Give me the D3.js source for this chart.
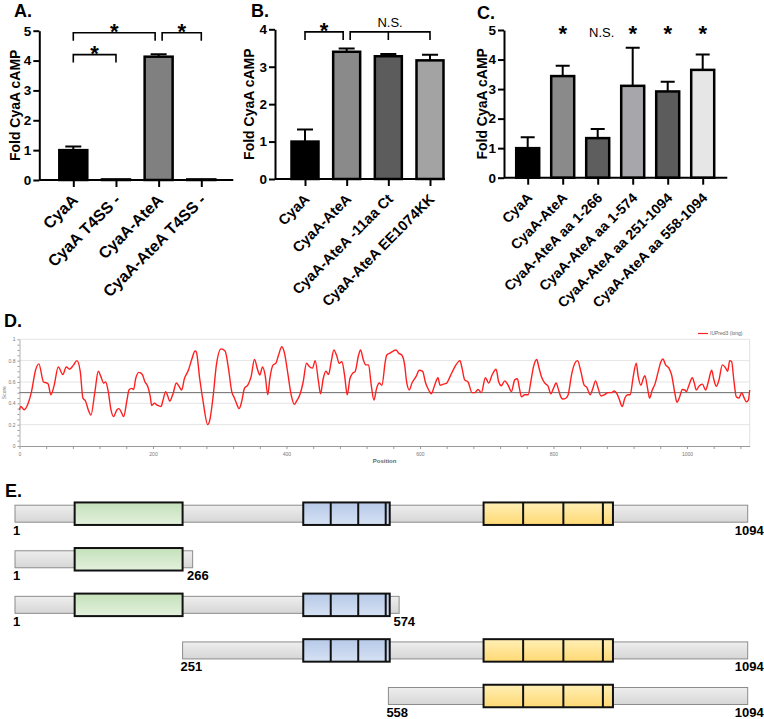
<!DOCTYPE html>
<html>
<head>
<meta charset="utf-8">
<script src="https://cdn.jsdelivr.net/npm/d3@7"></script>
<style>
  body { margin: 0; background: #fff; }
  svg { display: block; font-family: "Liberation Sans", Arial, sans-serif; }
</style>
</head>
<body>
<div id="figure"></div>
<script>
// ---- Panel A data ----
var catsA = ["CyaA", "CyaA T4SS -", "CyaA-AteA", "CyaA-AteA T4SS -"];
var valsA = [1.0, 0.02, 4.13, 0.02];
var errsA = [0.12, 0, 0.08, 0];
var sigA = [
  { a: "CyaA", b: "CyaA T4SS -", level: 4.2, label: "*" },
  { a: "CyaA", b: "CyaA-AteA", level: 4.93, label: "*" },
  { a: "CyaA-AteA", b: "CyaA-AteA T4SS -", level: 4.93, label: "*" }
];

// ---- Panel B data ----
var catsB = ["CyaA", "CyaA-AteA", "CyaA-AteA -11aa Ct", "CyaA-AteA EE1074KK"];
var valsB = [1.0, 3.40, 3.28, 3.17];
var errsB = [0.32, 0.09, 0.06, 0.15];
var sigB = [
  { a: "CyaA", b: "CyaA-AteA", level: 3.93, label: "*" },
  { a: "CyaA-AteA", b: "CyaA-AteA EE1074KK", mid: "CyaA-AteA -11aa Ct", level: 3.93, label: "N.S." }
];

// ---- Panel C data ----
var catsC = ["CyaA", "CyaA-AteA", "CyaA-AteA aa 1-266", "CyaA-AteA aa 1-574", "CyaA-AteA aa 251-1094", "CyaA-AteA aa 558-1094"];
var valsC = [1.0, 3.44, 1.34, 3.11, 2.92, 3.65];
var errsC = [0.37, 0.35, 0.31, 1.29, 0.33, 0.52];
var marksC = ["", "*", "N.S.", "*", "*", "*"];

// ---- Panel D data (IUPred3 long) ----
var iupredPos = [0,2,7,13,18,24,29,36,41,43,47,52,58,65,70,75,81,86,91,95,99,103,107,113,118,122,126,129,133,137,141,146,149,153,156,161,164,168,171,174,179,184,188,192,196,198,202,207,212,215,219,222,225,230,235,239,243,247,253,258,263,265,270,275,282,285,290,295,302,308,313,318,322,325,329,333,337,342,347,352,357,360,364,368,372,375,380,384,388,393,397,402,407,412,415,420,425,430,435,439,443,448,451,455,459,463,467,471,475,479,483,487,491,495,499,503,508,511,515,519,523,527,531,535,539,543,548,550,555,560,564,568,573,577,580,584,588,594,599,604,608,613,617,622,627,630,635,640,645,652,660,663,667,672,678,682,687,692,698,703,708,714,718,722,727,732,737,742,746,749,752,757,762,766,770,775,778,782,787,792,796,800,804,807,811,814,819,822,827,832,836,841,846,850,855,859,863,867,871,876,882,887,891,895,899,903,907,911,915,919,924,927,931,935,937,941,944,948,952,957,961,964,968,973,977,982,985,989,993,997,999,1003,1008,1011,1014,1018,1023,1028,1032,1037,1040,1044,1048,1053,1058,1061,1064,1067,1070,1074,1078,1082,1085,1089,1092,1094];
var iupredScore = [0.34,0.37,0.34,0.40,0.51,0.71,0.77,0.60,0.59,0.58,0.48,0.57,0.74,0.67,0.74,0.72,0.76,0.80,0.70,0.45,0.42,0.34,0.29,0.51,0.70,0.65,0.59,0.60,0.51,0.34,0.275,0.34,0.35,0.31,0.275,0.43,0.525,0.54,0.53,0.63,0.69,0.67,0.60,0.56,0.46,0.38,0.40,0.38,0.37,0.43,0.51,0.47,0.42,0.49,0.59,0.56,0.525,0.63,0.71,0.81,0.89,0.88,0.63,0.42,0.20,0.24,0.46,0.76,0.91,0.89,0.73,0.51,0.45,0.40,0.35,0.42,0.54,0.57,0.65,0.81,0.71,0.665,0.74,0.665,0.48,0.63,0.76,0.775,0.85,0.93,0.87,0.68,0.48,0.39,0.42,0.48,0.60,0.775,0.74,0.73,0.80,0.60,0.49,0.63,0.70,0.67,0.79,0.90,0.85,0.775,0.79,0.665,0.48,0.63,0.68,0.70,0.85,0.90,0.81,0.76,0.76,0.57,0.43,0.54,0.59,0.57,0.79,0.85,0.87,0.89,0.90,0.87,0.85,0.76,0.60,0.525,0.59,0.65,0.71,0.70,0.60,0.525,0.49,0.57,0.64,0.57,0.58,0.59,0.65,0.74,0.80,0.73,0.62,0.60,0.50,0.50,0.53,0.50,0.64,0.59,0.665,0.72,0.60,0.565,0.61,0.57,0.51,0.62,0.63,0.54,0.46,0.48,0.48,0.60,0.74,0.81,0.74,0.65,0.59,0.56,0.49,0.54,0.59,0.54,0.46,0.44,0.45,0.48,0.665,0.775,0.80,0.70,0.57,0.55,0.48,0.54,0.61,0.54,0.47,0.48,0.50,0.50,0.515,0.49,0.43,0.37,0.45,0.48,0.48,0.63,0.775,0.65,0.57,0.64,0.66,0.54,0.45,0.525,0.58,0.70,0.79,0.815,0.76,0.73,0.665,0.49,0.41,0.46,0.53,0.525,0.51,0.57,0.64,0.59,0.525,0.56,0.58,0.525,0.60,0.71,0.63,0.56,0.62,0.76,0.73,0.70,0.80,0.79,0.63,0.46,0.45,0.50,0.46,0.415,0.43,0.525];
var iupredThreshold = 0.5;

// ---- Panel E data (constructs, residues) ----
var constructStart = [1, 1, 1, 251, 558];
var constructEnd = [1094, 266, 574, 1094, 1094];
var domainNames = ["green", "blue", "yellow"];
var domainStart = [90, 431, 700];
var domainEnd = [251, 560, 893];
var domainDividers = [[], [472, 513, 554], [759, 819, 878]];

var fillsA = ["#000", "#fff", "#808080", "#fff"];
var fillsB = ["#000", "#8a8a8a", "#5c5c5c", "#a3a3a3"];
var fillsC = ["#000", "#8a8a8a", "#5e5e5e", "#a6a6ab", "#5c5c5c", "#e6e6e6"];

var W = 764, H = 719;
var svg = d3.select("#figure").append("svg").attr("width", W).attr("height", H);

// gradients for panel E
var defs = svg.append("defs");
function grad(id, top, bottom) {
  var lg = defs.append("linearGradient").attr("id", id).attr("x1", 0).attr("y1", 0).attr("x2", 0).attr("y2", 1);
  lg.append("stop").attr("offset", "0%").attr("stop-color", top);
  lg.append("stop").attr("offset", "100%").attr("stop-color", bottom);
}
grad("g-gray", "#eeeeee", "#d6d6d6");
grad("g-green", "#c4e1ba", "#e3f1dd");
grad("g-blue", "#b6c9e8", "#d6e2f4");
grad("g-yellow", "#ffefb5", "#ffd974");

function panelLabel(txt, x, y) {
  svg.append("text").attr("x", x).attr("y", y).text(txt)
    .attr("font-size", 18).attr("font-weight", "bold").attr("fill", "#000");
}

// bar chart panel
function drawBars(p) {
  var g = svg.append("g");
  var x = d3.scalePoint().domain(p.cats).range([p.c0, p.c1]);
  var y = d3.scaleLinear().domain([0, p.ymax]).range([p.yBase, p.yTop]);

  // error bars
  g.selectAll("path.err").data(p.cats.filter((c, i) => p.errs[i] > 0)).enter().append("path")
    .attr("class", "err")
    .attr("d", c => {
      var i = p.cats.indexOf(c), cx = x(c), yt = y(p.vals[i] + p.errs[i]);
      return "M" + cx + "," + y(p.vals[i]) + "V" + yt + "M" + (cx - p.cap) + "," + yt + "H" + (cx + p.cap);
    })
    .attr("stroke", "#000").attr("stroke-width", 2).attr("fill", "none");

  g.selectAll("rect.bar").data(p.cats).enter().append("rect")
    .attr("class", "bar")
    .attr("x", c => x(c) - p.bw / 2).attr("width", p.bw)
    .attr("y", (c, i) => y(p.vals[i]))
    .attr("height", (c, i) => y(0) - y(p.vals[i]))
    .attr("fill", (c, i) => p.fills[i])
    .attr("stroke", "#000").attr("stroke-width", 2.5);

  // y axis
  var ya = g.append("g").attr("transform", "translate(" + p.ax + ",0)")
    .call(d3.axisLeft(y).ticks(p.ymax).tickSize(6).tickSizeOuter(0).tickFormat(d3.format("d")));
  ya.select(".domain").attr("stroke-width", 2);
  ya.selectAll(".tick line").attr("stroke-width", 2);
  ya.selectAll(".tick text").attr("x", -8).attr("font-size", 13.5).attr("font-weight", "bold")
    .attr("font-family", "Liberation Sans, Arial, sans-serif").attr("fill", "#000");

  // x axis
  g.append("line").attr("x1", p.ax).attr("x2", p.axEnd).attr("y1", y(0)).attr("y2", y(0))
    .attr("stroke", "#000").attr("stroke-width", 2);
  var xa = g.append("g").attr("transform", "translate(0," + y(0) + ")")
    .call(d3.axisBottom(x).tickSize(7).tickSizeOuter(0));
  xa.select(".domain").remove();
  xa.selectAll(".tick line").attr("stroke-width", 2);
  xa.selectAll(".tick text")
    .attr("x", 0).attr("y", 0).attr("dy", 0)
    .attr("text-anchor", "end")
    .attr("transform", "translate(5,21) rotate(-45)")
    .attr("font-size", p.labelSize).attr("font-weight", "bold")
    .attr("font-family", "Liberation Sans, Arial, sans-serif").attr("fill", "#000");

  // y title
  g.append("text").attr("transform", "translate(" + p.titleX + "," + ((p.yBase + p.yTop) / 2) + ") rotate(-90)")
    .attr("text-anchor", "middle").attr("dy", "0.35em")
    .attr("font-size", 14).attr("font-weight", "bold").text("Fold CyaA cAMP");

  // significance brackets
  (p.sig || []).forEach(function (s) {
    var xa0 = x(s.a), xb0 = x(s.b);
    // split shared endpoints at the same level
    p.sig.forEach(function (o) {
      if (o === s || o.level !== s.level) return;
      if (o.a === s.b) xb0 -= 3.5;
      if (o.b === s.a) xa0 += 3.5;
      if (o.b === s.b && x(o.a) > x(s.a)) xb0 -= 3.5;
    });
    var yl = y(s.level), drop = 8;
    var d = "M" + xa0 + "," + (yl + drop) + "V" + yl + "H" + xb0 + "V" + (yl + drop);
    if (s.mid) d += "M" + x(s.mid) + "," + yl + "V" + (yl + drop);
    g.append("path").attr("d", d).attr("fill", "none").attr("stroke", "#000").attr("stroke-width", 1.6);
    var cx = (xa0 + xb0) / 2;
    if (s.label === "*") {
      g.append("text").attr("x", cx).attr("y", yl + 6.5).attr("text-anchor", "middle")
        .attr("font-size", 22).attr("font-weight", "bold").text("*");
    } else {
      g.append("text").attr("x", cx).attr("y", yl - 4.5).attr("text-anchor", "middle")
        .attr("font-size", 13).text(s.label);
    }
  });

  // per-bar marks
  (p.marks || []).forEach(function (m, i) {
    if (!m) return;
    if (m === "*") {
      g.append("text").attr("x", x(p.cats[i])).attr("y", p.markY + 8).attr("text-anchor", "middle")
        .attr("font-size", 22).attr("font-weight", "bold").text("*");
    } else {
      g.append("text").attr("x", x(p.cats[i]) + 4).attr("y", p.markY + 4).attr("text-anchor", "middle")
        .attr("font-size", 13).text(m);
    }
  });
}

panelLabel("A.", 14, 17);
panelLabel("B.", 251, 17);
panelLabel("C.", 477, 19);
panelLabel("D.", 4, 327);
panelLabel("E.", 5, 497);

drawBars({ cats: catsA, vals: valsA, errs: errsA, fills: fillsA, sig: sigA, ymax: 5, labelSize: 16,
  yBase: 180, yTop: 30.7, ax: 39.3, axEnd: 233.3, c0: 73.3, c1: 201.3, bw: 28, cap: 8, titleX: 15 });
drawBars({ cats: catsB, vals: valsB, errs: errsB, fills: fillsB, sig: sigB, ymax: 4, labelSize: 14.5,
  yBase: 179, yTop: 29.3, ax: 275, axEnd: 445, c0: 305, c1: 430, bw: 27, cap: 8, titleX: 249 });
drawBars({ cats: catsC, vals: valsC, errs: errsC, fills: fillsC, marks: marksC, ymax: 5, labelSize: 14,
  yBase: 177.7, yTop: 30, ax: 504, axEnd: 727.3, c0: 527.7, c1: 702.7, bw: 23, cap: 7, titleX: 482, markY: 32.5 });

// ---- Panel D: disorder profile ----
var gD = svg.append("g");
var xD = d3.scaleLinear().domain([0, 1094]).range([19.5, 749.7]);
var yD = d3.scaleLinear().domain([0, 1]).range([446, 339.3]);

gD.selectAll("line.grid").data([0.2, 0.4, 0.6, 0.8, 1.0]).enter().append("line")
  .attr("x1", xD(0)).attr("x2", xD(1094)).attr("y1", d => yD(d)).attr("y2", d => yD(d))
  .attr("stroke", "#e4e4e4").attr("stroke-width", 1);
gD.append("line").attr("x1", xD(1094)).attr("x2", xD(1094)).attr("y1", yD(1)).attr("y2", yD(0))
  .attr("stroke", "#e0e0e0");

var xaD = gD.append("g").attr("transform", "translate(0," + yD(0) + ")")
  .call(d3.axisBottom(xD).tickValues(d3.range(0, 1095, 40)).tickSize(3).tickSizeOuter(0)
    .tickFormat(d => d % 200 === 0 ? d : ""));
xaD.select(".domain").attr("stroke", "#9a9a9a");
xaD.selectAll(".tick line").attr("stroke", "#9a9a9a");
xaD.selectAll(".tick text").attr("font-size", 5).attr("fill", "#777").attr("y", 6);

var yaD = gD.append("g").attr("transform", "translate(" + xD(0) + ",0)")
  .call(d3.axisLeft(yD).tickValues(d3.range(0, 21).map(i => i / 20)).tickSize(2).tickSizeOuter(0)
    .tickFormat(d => (Math.round(d * 20) % 4 === 0) ? d3.format("~g")(d) : ""));
yaD.select(".domain").attr("stroke", "#b0b0b0");
yaD.selectAll(".tick line").attr("stroke", "#9a9a9a");
yaD.selectAll(".tick text").attr("font-size", 5).attr("fill", "#777").attr("x", -4);

gD.append("line").attr("x1", xD(0)).attr("x2", xD(1094))
  .attr("y1", yD(iupredThreshold)).attr("y2", yD(iupredThreshold))
  .attr("stroke", "#6a6a6a").attr("stroke-width", 1);

var lineD = d3.line().x((d, i) => xD(iupredPos[i])).y(d => yD(d)).curve(d3.curveMonotoneX);
gD.append("path").attr("d", lineD(iupredScore)).attr("fill", "none")
  .attr("stroke", "#ff1f1f").attr("stroke-width", 1.4);

gD.append("text").attr("transform", "translate(6," + ((yD(0) + yD(1)) / 2) + ") rotate(-90)")
  .attr("text-anchor", "middle").attr("font-size", 5).attr("fill", "#777").text("Score");
gD.append("text").attr("x", (xD(0) + xD(1094)) / 2).attr("y", 463).attr("text-anchor", "middle")
  .attr("font-size", 6).attr("font-weight", "bold").attr("fill", "#666").text("Position");
gD.append("line").attr("x1", 698).attr("x2", 708).attr("y1", 333.5).attr("y2", 333.5)
  .attr("stroke", "#ff1f1f").attr("stroke-width", 1.2);
gD.append("text").attr("x", 710).attr("y", 335.3).attr("font-size", 5).attr("fill", "#666").text("IUPred3 (long)");

// ---- Panel E: construct diagrams ----
var gE = svg.append("g");
var xE = d3.scaleLinear().domain([1, 1094]).range([15, 747.7]);
var yE = d3.scalePoint().domain(d3.range(constructStart.length)).range([513.7, 696]);
var barH = 17, boxH = 22.5;

constructStart.forEach(function (s, r) {
  var e = constructEnd[r], cy = yE(r);
  gE.append("rect").attr("x", xE(s)).attr("y", cy - barH / 2)
    .attr("width", xE(e) - xE(s)).attr("height", barH)
    .attr("fill", "url(#g-gray)").attr("stroke", "#8c8c8c").attr("stroke-width", 1);

  domainNames.forEach(function (name, k) {
    if (domainStart[k] < s || domainEnd[k] > e) return;
    gE.append("rect").attr("x", xE(domainStart[k])).attr("y", cy - boxH / 2)
      .attr("width", xE(domainEnd[k]) - xE(domainStart[k])).attr("height", boxH)
      .attr("fill", "url(#g-" + name + ")").attr("stroke", "#111").attr("stroke-width", 2);
    domainDividers[k].forEach(function (v) {
      gE.append("line").attr("x1", xE(v)).attr("x2", xE(v))
        .attr("y1", cy - boxH / 2).attr("y2", cy + boxH / 2)
        .attr("stroke", "#111").attr("stroke-width", 2);
    });
  });

  gE.append("text").attr("x", xE(s) - 2).attr("y", cy + barH / 2 + 12.5)
    .attr("font-size", 13).attr("font-weight", "bold").text(s);
  gE.append("text").attr("x", xE(e) + 16).attr("y", cy + barH / 2 + 12.5)
    .attr("text-anchor", "end").attr("font-size", 13).attr("font-weight", "bold").text(e);
});
</script>
</body>
</html>
